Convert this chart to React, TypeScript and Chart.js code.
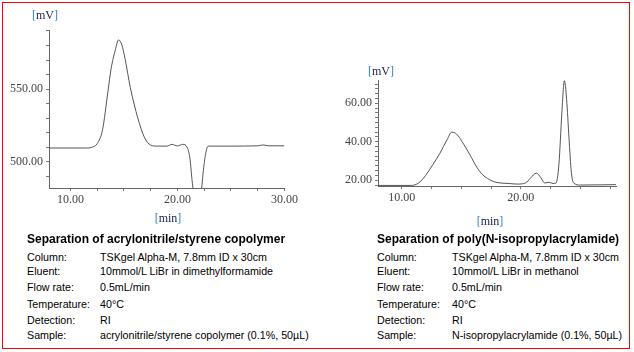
import React, { useEffect, useRef } from "react";
import { Chart, registerables } from "chart.js";

Chart.register(...registerables);

// ---- Left chromatogram: acrylonitrile/styrene copolymer ----
const LEFT_TIME = [8, 11.5, 12.0, 12.5, 13.0, 13.5, 13.8, 14.2, 14.5, 14.8, 15.1, 15.6, 16.3, 16.9, 17.5, 18.1, 19.0, 19.5, 20.0, 20.5, 20.9, 21.15, 21.4, 21.8, 22.2, 22.45, 22.7, 22.9, 25.0, 27.5, 28.0, 28.5, 30];
const LEFT_SIGNAL = [509.5, 509.5, 510, 512.5, 522, 548, 564, 577, 583.8, 580.5, 571, 551, 530, 517, 511.5, 510.8, 510.8, 512, 510.9, 512, 510, 503, 485, 465, 478, 496, 508, 510.8, 510.8, 511, 511.6, 511, 511];
const LEFT_X_LABELS = [10, 20, 30];
const LEFT_Y_LABELS = [500, 550];

// ---- Right chromatogram: poly(N-isopropylacrylamide) ----
const RIGHT_TIME = [8, 10.8, 11.2, 11.6, 12.0, 12.6, 13.2, 13.8, 14.2, 14.6, 15.2, 15.7, 16.3, 16.8, 17.2, 17.6, 18.0, 19.0, 19.7, 20.4, 20.8, 21.3, 21.7, 22.0, 22.4, 22.7, 22.95, 23.2, 23.45, 23.66, 23.85, 24.05, 24.25, 24.45, 25.0, 26.5, 28];
const RIGHT_SIGNAL = [17.3, 17.3, 17.8, 19.5, 22.5, 28, 34, 41, 45, 44, 38.7, 33.5, 26.8, 22.8, 20.9, 19.6, 18.8, 18.3, 18.0, 18.6, 21, 23.7, 21.2, 18.6, 18.9, 18.3, 18.5, 28, 55, 71.8, 62, 42, 24, 18.5, 17.5, 17.6, 17.7];
const RIGHT_X_LABELS = [10, 20];
const RIGHT_Y_LABELS = [20, 40, 60];

const LEFT_ROWS: [string, string][] = [
  ["Column:", "TSKgel Alpha-M, 7.8mm ID x 30cm"],
  ["Eluent:", "10mmol/L LiBr in dimethylformamide"],
  ["Flow rate:", "0.5mL/min"],
  ["Temperature:", "40°C"],
  ["Detection:", "RI"],
  ["Sample:", "acrylonitrile/styrene copolymer (0.1%, 50µL)"],
];
const RIGHT_ROWS: [string, string][] = [
  ["Column:", "TSKgel Alpha-M, 7.8mm ID x 30cm"],
  ["Eluent:", "10mmol/L LiBr in methanol"],
  ["Flow rate:", "0.5mL/min"],
  ["Temperature:", "40°C"],
  ["Detection:", "RI"],
  ["Sample:", "N-isopropylacrylamide (0.1%, 50µL)"],
];

function steps(min: number, max: number, step: number): number[] {
  const out: number[] = [];
  const start = Math.ceil(min / step) * step;
  for (let v = start; v <= max + 1e-9; v += step) out.push(Math.round(v * 1000) / 1000);
  return out;
}

type Cfg = {
  time: number[];
  signal: number[];
  xMin: number; xMax: number; xStep: number; xLabels: number[];
  yMin: number; yMax: number; yStep: number; yLabels: number[];
  yWidth: number; xHeight: number;
  padTop: number; padRight: number;
};

function buildChart(canvas: HTMLCanvasElement, c: Cfg) {
  const tickFont = { family: "'Liberation Serif', 'DejaVu Serif', serif", size: 12 };
  return new Chart(canvas, {
    type: "line",
    data: {
      datasets: [
        {
          data: c.time.map((t, i) => ({ x: t, y: c.signal[i] })),
          borderColor: "#555555",
          borderWidth: 1,
          pointRadius: 0,
          cubicInterpolationMode: "monotone",
          fill: false,
        },
      ],
    },
    options: {
      animation: false,
      responsive: false,
      events: [],
      layout: { padding: { top: c.padTop, right: c.padRight, left: 0, bottom: 0 } },
      plugins: { legend: { display: false }, tooltip: { enabled: false } },
      scales: {
        x: {
          type: "linear",
          min: c.xMin,
          max: c.xMax,
          afterBuildTicks: (scale: any) => {
            scale.ticks = steps(c.xMin, c.xMax, c.xStep).map((v) => ({ value: v }));
          },
          afterFit: (scale: any) => { scale.height = c.xHeight; },
          grid: { drawOnChartArea: false, drawTicks: true, tickLength: 3, tickColor: "#777" },
          border: { display: true, color: "#666", width: 1 },
          ticks: {
            autoSkip: false,
            maxRotation: 0,
            padding: 2,
            color: "#444",
            font: tickFont,
            callback: (v: any) => (c.xLabels.includes(Number(v)) ? Number(v).toFixed(2) : ""),
          },
        },
        y: {
          type: "linear",
          min: c.yMin,
          max: c.yMax,
          afterBuildTicks: (scale: any) => {
            scale.ticks = steps(c.yMin, c.yMax, c.yStep).map((v) => ({ value: v }));
          },
          afterFit: (scale: any) => { scale.width = c.yWidth; },
          grid: { drawOnChartArea: false, drawTicks: true, tickLength: 3, tickColor: "#777" },
          border: { display: true, color: "#666", width: 1 },
          ticks: {
            autoSkip: false,
            padding: 3,
            color: "#444",
            font: tickFont,
            callback: (v: any) => (c.yLabels.includes(Number(v)) ? Number(v).toFixed(2) : ""),
          },
        },
      },
    } as any,
  });
}

const unitStyle = (left: number, top: number): React.CSSProperties => ({
  position: "absolute",
  left,
  top,
  fontFamily: "'Liberation Serif', serif",
  fontSize: 12,
  lineHeight: "14px",
  color: "#1a2050",
  whiteSpace: "nowrap",
});
const br: React.CSSProperties = { color: "#2f7fd0" };

function Unit({ text, cx, cy }: { text: string; cx: number; cy: number }) {
  return (
    <div style={{ ...unitStyle(cx - 30, cy - 7), width: 60, textAlign: "center" }}>
      <span style={br}>[</span>
      {text}
      <span style={br}>]</span>
    </div>
  );
}

function Table({ x, valueX, title, rows }: { x: number; valueX: number; title: string; rows: [string, string][] }) {
  const ys = [256.7, 270.7, 287.3, 303.7, 319.5, 335];
  return (
    <>
      <div
        style={{
          position: "absolute",
          left: x,
          top: 239 - 8,
          lineHeight: "16px",
          fontFamily: "'Liberation Sans', Arial, sans-serif",
          fontWeight: "bold",
          fontSize: 12,
          color: "#000",
          whiteSpace: "nowrap",
        }}
      >
        {title}
      </div>
      {rows.map(([k, v], i) => (
        <React.Fragment key={i}>
          <div style={rowStyle(x, ys[i])}>{k}</div>
          <div style={rowStyle(valueX, ys[i])}>{v}</div>
        </React.Fragment>
      ))}
    </>
  );
}

function rowStyle(left: number, cy: number): React.CSSProperties {
  return {
    position: "absolute",
    left,
    top: cy - 7,
    lineHeight: "14px",
    fontFamily: "'Liberation Sans', Arial, sans-serif",
    fontSize: 10.7,
    color: "#000",
    whiteSpace: "nowrap",
  };
}

export default function App() {
  const leftRef = useRef<HTMLCanvasElement>(null);
  const rightRef = useRef<HTMLCanvasElement>(null);

  useEffect(() => {
    const a = buildChart(leftRef.current!, {
      time: LEFT_TIME,
      signal: LEFT_SIGNAL,
      xMin: 8, xMax: 30, xStep: 2.5, xLabels: LEFT_X_LABELS,
      yMin: 482, yMax: 590.5, yStep: 10, yLabels: LEFT_Y_LABELS,
      yWidth: 49, xHeight: 32, padTop: 8, padRight: 12,
    });
    const b = buildChart(rightRef.current!, {
      time: RIGHT_TIME,
      signal: RIGHT_SIGNAL,
      xMin: 8, xMax: 28, xStep: 2.5, xLabels: RIGHT_X_LABELS,
      yMin: 17, yMax: 72, yStep: 2.5, yLabels: RIGHT_Y_LABELS,
      yWidth: 58, xHeight: 34, padTop: 9, padRight: 14,
    });
    return () => {
      a.destroy();
      b.destroy();
    };
  }, []);

  return (
    <div style={{ position: "fixed", left: 0, top: 0, width: 634, height: 352, background: "#fff", overflow: "hidden" }}>
      <div style={{ position: "absolute", left: 2, top: 2, width: 626, height: 345, border: "1px solid #ff0000" }} />
      <canvas ref={leftRef} width={300} height={200} style={{ position: "absolute", left: 0, top: 20, width: 300, height: 200 }} />
      <canvas ref={rightRef} width={310} height={150} style={{ position: "absolute", left: 320, top: 70, width: 310, height: 150 }} />
      <Unit text="mV" cx={45} cy={15} />
      <Unit text="min" cx={168} cy={218} />
      <Unit text="mV" cx={381} cy={71} />
      <Unit text="min" cx={490} cy={221} />
      <Table x={27} valueX={100} title="Separation of acrylonitrile/styrene copolymer" rows={LEFT_ROWS} />
      <Table x={377} valueX={452} title="Separation of poly(N-isopropylacrylamide)" rows={RIGHT_ROWS} />
    </div>
  );
}
